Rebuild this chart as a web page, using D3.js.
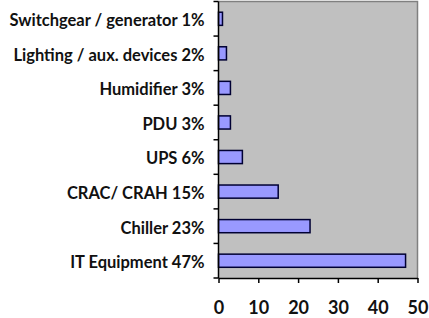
<!DOCTYPE html>
<html>
<head>
<meta charset="utf-8">
<script src="https://cdn.jsdelivr.net/npm/d3@7"></script>
<style>
  body { margin: 0; background: #fff; }
  svg { display: block; }
</style>
</head>
<body>
<div id="chart"></div>
<script>
// data, top to bottom
var categories = ["Switchgear / generator 1%", "Lighting / aux. devices 2%", "Humidifier 3%",
    "PDU 3%", "UPS 6%", "CRAC/ CRAH 15%", "Chiller 23%", "IT Equipment 47%"];
var values = [1, 2, 3, 3, 6, 15, 23, 47];
var xTicks = [0, 10, 20, 30, 40, 50];

var width = 429;
var height = 318;
var margin = {top: 1.5, right: 11.5, bottom: 40, left: 218.5};

var svg = d3.select("#chart")
    .append("svg")
    .attr("width", width)
    .attr("height", height);

var data = categories.map((c, i) => ({name: c, value: values[i]}));

const x = d3.scaleLinear()
    .domain([0, 50])
    .range([margin.left, width - margin.right]);

const y = d3.scaleBand()
    .domain(categories)
    .range([margin.top, height - margin.bottom])
    .paddingInner(0.62)
    .paddingOuter(0.31);

// plot background
svg.append("rect")
    .attr("x", margin.left)
    .attr("y", margin.top)
    .attr("width", x(50) - margin.left)
    .attr("height", height - margin.bottom - margin.top)
    .attr("fill", "#c0c0c0")
    .attr("stroke", "none");

// top / right border of plot area
svg.append("path")
    .attr("d", "M" + margin.left + "," + margin.top + "H" + x(50) + "V" + (height - margin.bottom))
    .attr("fill", "none")
    .attr("stroke", "#808080")
    .attr("stroke-width", 1.5);

// bars
svg.selectAll("rect.bar")
    .data(data)
    .join("rect")
    .attr("class", "bar")
    .attr("x", x(0))
    .attr("y", d => y(d.name))
    .attr("width", d => x(d.value) - x(0))
    .attr("height", y.bandwidth())
    .attr("fill", "#9999ff")
    .attr("stroke", "#000033")
    .attr("stroke-width", 1.5);

// y axis: ticks between categories
var yAxis = svg.append("g")
    .attr("transform", "translate(" + margin.left + ",0)");
yAxis.append("line")
    .attr("y1", margin.top).attr("y2", height - margin.bottom)
    .attr("stroke", "#000").attr("stroke-width", 1.5);
var step = y.step();
yAxis.selectAll("line.tk")
    .data(d3.range(categories.length + 1))
    .join("line")
    .attr("class", "tk")
    .attr("x1", -5).attr("x2", 0)
    .attr("y1", i => margin.top + i * step)
    .attr("y2", i => margin.top + i * step)
    .attr("stroke", "#000").attr("stroke-width", 1.5);

yAxis.selectAll("text")
    .data(categories)
    .join("text")
    .attr("x", -14)
    .attr("y", d => y(d) + y.bandwidth() / 2)
    .attr("dy", "0.45em")
    .attr("text-anchor", "end")
    .attr("font-family", "Lato, sans-serif")
    .attr("font-weight", "bold")
    .attr("font-size", 16.5)
    .attr("fill", "#111")
    .text(d => d);

// x axis
svg.append("g")
    .attr("transform", "translate(0," + (height - margin.bottom) + ")")
    .call(d3.axisBottom(x).tickValues(xTicks).tickSizeInner(5).tickSizeOuter(0).tickPadding(18))
    .call(g => g.select(".domain").attr("stroke-width", 1.5))
    .call(g => g.selectAll(".tick line").attr("stroke-width", 1.5))
    .call(g => g.selectAll("text")
        .attr("font-family", "Lato, sans-serif")
        .attr("font-weight", "bold")
        .attr("font-size", 18)
        .attr("fill", "#111"));
</script>
</body>
</html>
